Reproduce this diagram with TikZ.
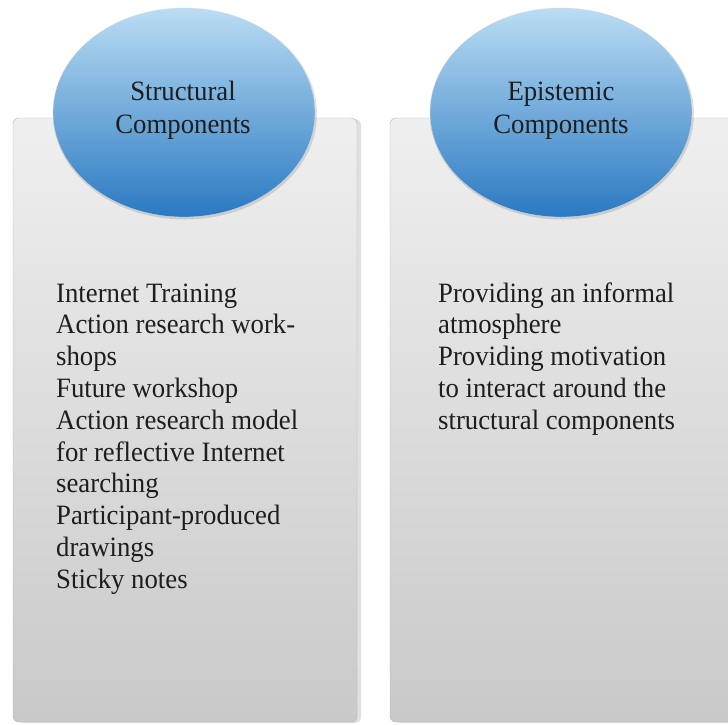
\documentclass[tikz,border=0pt]{standalone}
\usepackage{fontspec}
\setmainfont{Liberation Serif}[FakeStretch=0.955]
\usetikzlibrary{shapes.geometric}
\definecolor{boxtop}{HTML}{EFEFEF}
\definecolor{boxbot}{HTML}{C9C9C9}
\definecolor{elltop}{HTML}{BADDF3}
\definecolor{ellbot}{HTML}{2A79C2}
\definecolor{txt}{HTML}{1E1E1E}
\tikzset{
  panel/.style={rectangle, rounded corners=6pt, top color=boxtop, bottom color=boxbot,
    draw=black!30, line width=0.4pt, minimum width=344pt, minimum height=604pt, inner sep=0pt},
  panelshadow/.style={rectangle, rounded corners=6pt, fill=black, opacity=0.12,
    minimum width=344pt, minimum height=604pt, inner sep=0pt},
  bubble/.style={ellipse, top color=elltop, bottom color=ellbot, draw=black!15, line width=0.3pt,
    minimum width=262pt, minimum height=209pt, inner sep=0pt},
  bubbleshadow/.style={ellipse, fill=black, opacity=0.12,
    minimum width=264pt, minimum height=211pt, inner sep=0pt},
  title/.style={align=center, text=txt, font=\fontsize{28}{33}\selectfont, inner sep=0pt, anchor=base},
  body/.style={align=left, text=txt, font=\fontsize{28}{31.8}\selectfont, inner sep=0pt, anchor=base west}
}
\begin{document}
\begin{tikzpicture}[x=1pt,y=-1pt]
\useasboundingbox (0,0) rectangle (728,724);
\clip (0,0) rectangle (728,724);
% shadows
\node[panelshadow] (s1) at (189,421) {};
\node[panelshadow] (s2) at (566,421) {};
% panels
\node[panel] (box1) at (185,420) {};
\node[panel] (box2) at (562,420) {};
% bubbles
\node[bubbleshadow] (es1) at (185,114) {};
\node[bubbleshadow] (es2) at (562,114) {};
\node[bubble] (ell1) at (184,112.5) {};
\node[bubble] (ell2) at (561,112.5) {};
% titles (anchor = baseline of last line)
\node[title] (t1) at (183,133) {Structural\\Components};
\node[title] (t2) at (561,133) {Epistemic\\Components};
% body texts (anchor = baseline of last line)
\node[body] (b1) at (56,588.2) {Internet Training\\Action research work-\\shops\\Future workshop\\Action research model\\for reflective Internet\\searching\\Participant-produced\\drawings\\Sticky notes};
\node[body] (b2) at (438,429.2) {Providing an informal\\atmosphere\\Providing motivation\\to interact around the\\structural components};
\end{tikzpicture}
\end{document}
